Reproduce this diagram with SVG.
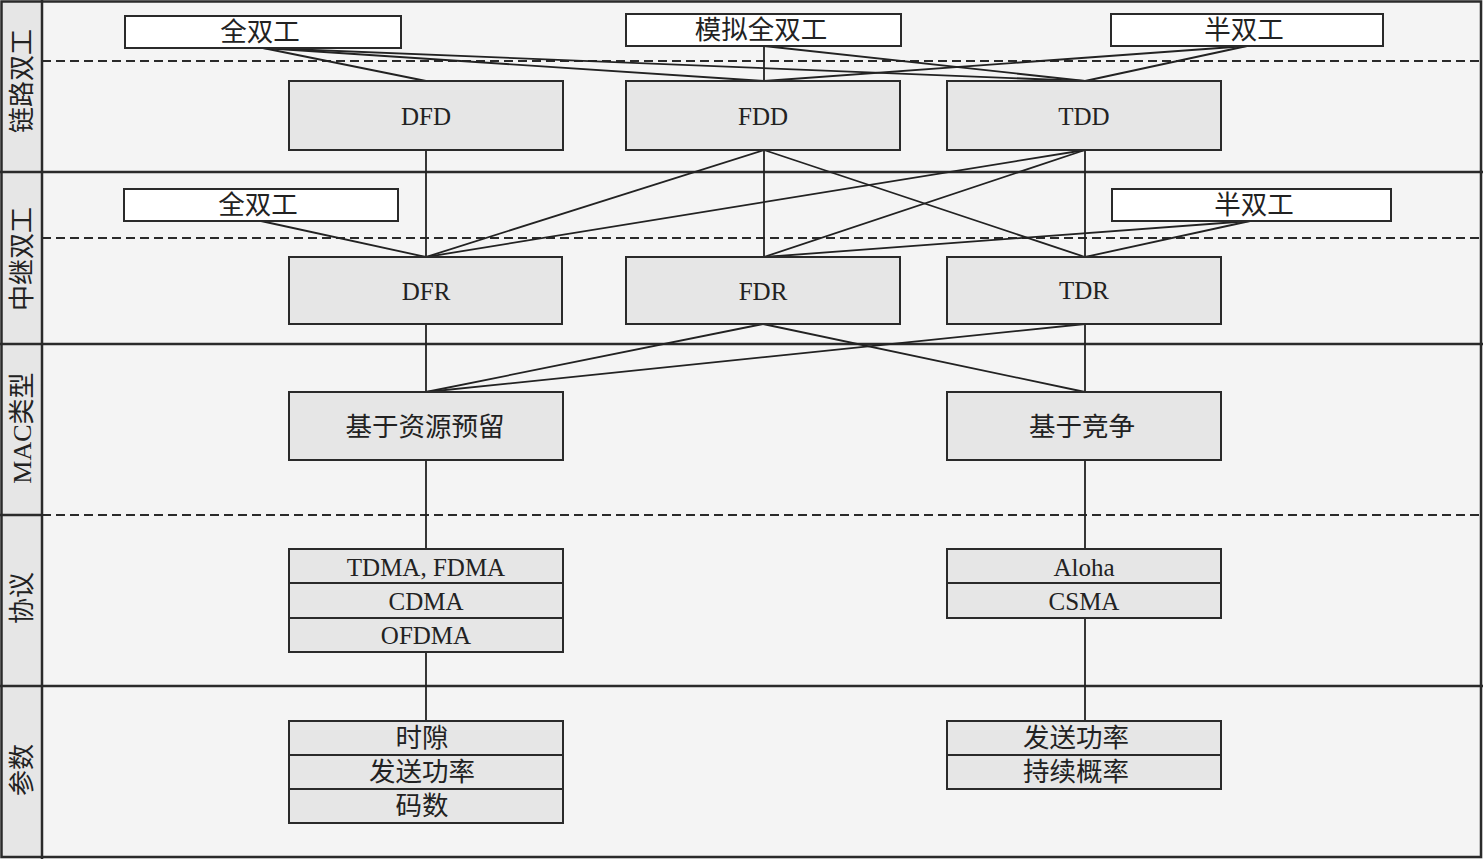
<svg xmlns="http://www.w3.org/2000/svg" width="1483" height="859" viewBox="0 0 1483 859">
<style>
  text { font-family: "Liberation Serif", "Noto Sans CJK SC", serif; fill: #222; text-anchor: middle; dominant-baseline: central; }
  .lat { font-size: 25px; }
  .cjk { font-size: 26.5px; }
  .lbl { font-size: 26px; }
  .box { fill: #e6e6e6; stroke: #2a2a2a; stroke-width: 2; }
  .wbox { fill: #ffffff; stroke: #2a2a2a; stroke-width: 2; }
  .sep { stroke: #2a2a2a; stroke-width: 2.5; fill: none; }
  .dash { stroke: #2a2a2a; stroke-width: 2; stroke-dasharray: 9 5; fill: none; }
  .conn line { stroke: #222; stroke-width: 1.8; }
</style>
<rect x="0" y="0" width="1483" height="859" fill="#f4f4f4"/>
<g id="lanes">
  <rect x="1.5" y="1.5" width="41" height="855.5" fill="#e6e6e6"/>
  <line class="sep" x1="0" y1="172" x2="1483" y2="172"/>
  <line class="sep" x1="0" y1="344" x2="1483" y2="344"/>
  <line class="sep" x1="0" y1="515" x2="42" y2="515"/>
  <line class="dash" x1="42" y1="515" x2="1481" y2="515"/>
  <line class="sep" x1="0" y1="686" x2="1483" y2="686"/>
  <line class="dash" x1="42" y1="61" x2="1481" y2="61"/>
  <line class="dash" x1="42" y1="238" x2="1481" y2="238"/>
  <line class="sep" x1="42" y1="0" x2="42" y2="859"/>
  <rect class="sep" x="1.5" y="1.5" width="1479.5" height="855.5"/>
  <text class="lbl" transform="translate(22,81) rotate(-90)">链路双工</text>
  <text class="lbl" transform="translate(22,259) rotate(-90)">中继双工</text>
  <text class="lbl" transform="translate(22,428) rotate(-90)">MAC类型</text>
  <text class="lbl" transform="translate(22,598) rotate(-90)">协议</text>
  <text class="lbl" transform="translate(22,770) rotate(-90)">参数</text>
</g>
<g class="conn" id="connectors">
  <line x1="263" y1="48" x2="426" y2="81"/>
  <line x1="263" y1="48" x2="764" y2="81"/>
  <line x1="263" y1="48" x2="1085" y2="81"/>
  <line x1="764" y1="46" x2="764" y2="81"/>
  <line x1="764" y1="46" x2="1085" y2="81"/>
  <line x1="1247" y1="46" x2="764" y2="81"/>
  <line x1="1247" y1="46" x2="1085" y2="81"/>
  <line x1="426" y1="150" x2="426" y2="257"/>
  <line x1="764" y1="150" x2="426" y2="257"/>
  <line x1="764" y1="150" x2="764" y2="257"/>
  <line x1="764" y1="150" x2="1085" y2="257"/>
  <line x1="1085" y1="150" x2="426" y2="257"/>
  <line x1="1085" y1="150" x2="764" y2="257"/>
  <line x1="1085" y1="150" x2="1085" y2="257"/>
  <line x1="261" y1="221" x2="426" y2="257"/>
  <line x1="1250" y1="221" x2="764" y2="257"/>
  <line x1="1250" y1="221" x2="1085" y2="257"/>
  <line x1="426" y1="324" x2="426" y2="392"/>
  <line x1="763" y1="324" x2="426" y2="392"/>
  <line x1="763" y1="324" x2="1085" y2="392"/>
  <line x1="1085" y1="324" x2="426" y2="392"/>
  <line x1="1085" y1="324" x2="1085" y2="392"/>
  <line x1="426" y1="460" x2="426" y2="549"/>
  <line x1="1085" y1="460" x2="1085" y2="549"/>
  <line x1="426" y1="652" x2="426" y2="720"/>
  <line x1="1085" y1="618" x2="1085" y2="720"/>
</g>
<g id="link-full">
  <rect class="wbox" x="125" y="16" width="276" height="32"/>
  <text class="cjk" x="260" y="32">全双工</text>
</g>
<g id="link-sim">
  <rect class="wbox" x="626" y="14" width="275" height="32"/>
  <text class="cjk" x="761" y="30">模拟全双工</text>
</g>
<g id="link-half">
  <rect class="wbox" x="1111" y="14" width="272" height="32"/>
  <text class="cjk" x="1244" y="30">半双工</text>
</g>
<g id="DFD">
  <rect class="box" x="289" y="81" width="274" height="69"/>
  <text class="lat" x="426" y="116">DFD</text>
</g>
<g id="FDD">
  <rect class="box" x="626" y="81" width="274" height="69"/>
  <text class="lat" x="763" y="116">FDD</text>
</g>
<g id="TDD">
  <rect class="box" x="947" y="81" width="274" height="69"/>
  <text class="lat" x="1084" y="116">TDD</text>
</g>
<g id="relay-full">
  <rect class="wbox" x="124" y="189" width="274" height="32"/>
  <text class="cjk" x="258" y="205">全双工</text>
</g>
<g id="relay-half">
  <rect class="wbox" x="1112" y="189" width="279" height="32"/>
  <text class="cjk" x="1254" y="205">半双工</text>
</g>
<g id="DFR">
  <rect class="box" x="289" y="257" width="273" height="67"/>
  <text class="lat" x="426" y="291">DFR</text>
</g>
<g id="FDR">
  <rect class="box" x="626" y="257" width="274" height="67"/>
  <text class="lat" x="763" y="291">FDR</text>
</g>
<g id="TDR">
  <rect class="box" x="947" y="257" width="274" height="67"/>
  <text class="lat" x="1084" y="290">TDR</text>
</g>
<g id="mac-reserve">
  <rect class="box" x="289" y="392" width="274" height="68"/>
  <text class="cjk" x="425" y="427">基于资源预留</text>
</g>
<g id="mac-contention">
  <rect class="box" x="947" y="392" width="274" height="68"/>
  <text class="cjk" x="1082" y="427">基于竞争</text>
</g>
<g id="proto-left">
  <rect class="box" x="289" y="549" width="274" height="34"/>
  <rect class="box" x="289" y="583" width="274" height="35"/>
  <rect class="box" x="289" y="618" width="274" height="34"/>
  <text class="lat" x="426" y="567">TDMA, FDMA</text>
  <text class="lat" x="426" y="601">CDMA</text>
  <text class="lat" x="426" y="635">OFDMA</text>
</g>
<g id="proto-right">
  <rect class="box" x="947" y="549" width="274" height="34"/>
  <rect class="box" x="947" y="583" width="274" height="35"/>
  <text class="lat" x="1084" y="567">Aloha</text>
  <text class="lat" x="1084" y="601">CSMA</text>
</g>
<g id="param-left">
  <rect class="box" x="289" y="721" width="274" height="34"/>
  <rect class="box" x="289" y="755" width="274" height="34"/>
  <rect class="box" x="289" y="789" width="274" height="34"/>
  <text class="cjk" x="422" y="738">时隙</text>
  <text class="cjk" x="422" y="772">发送功率</text>
  <text class="cjk" x="422" y="806">码数</text>
</g>
<g id="param-right">
  <rect class="box" x="947" y="721" width="274" height="34"/>
  <rect class="box" x="947" y="755" width="274" height="34"/>
  <text class="cjk" x="1076" y="738">发送功率</text>
  <text class="cjk" x="1076" y="772">持续概率</text>
</g>
</svg>
